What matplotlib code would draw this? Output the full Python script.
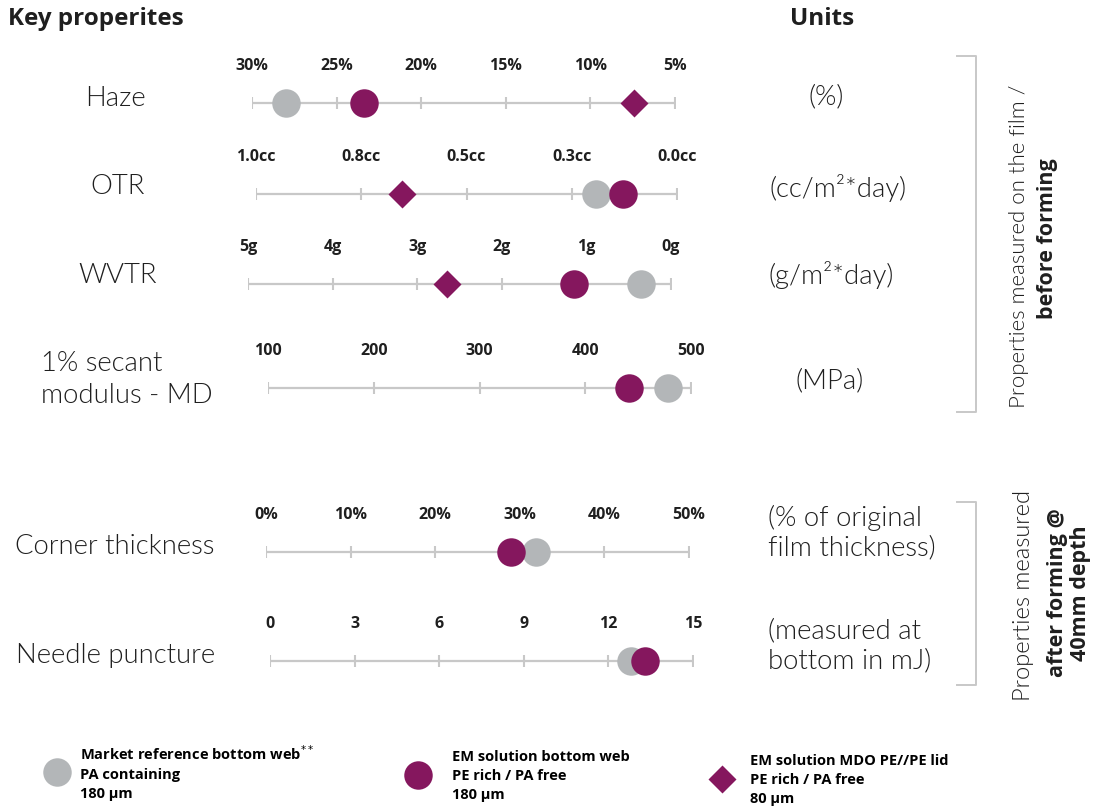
import matplotlib
matplotlib.use("Agg")
import matplotlib.pyplot as plt
from matplotlib.lines import Line2D
import numpy as np

W, H = 1094, 812

# ---- data --------------------------------------------------------------
properties = ["Haze", "OTR", "WVTR", "1% secant\nmodulus - MD",
              "Corner thickness", "Needle puncture"]
units = ["(%)", "(cc/m²*day)", "(g/m²*day)", "(MPa)",
         "(% of original\nfilm thickness)", "(measured at\nbottom in mJ)"]

haze_ticks = [30, 25, 20, 15, 10, 5]
otr_ticks = [1.0, 0.8, 0.5, 0.3, 0.0]
wvtr_ticks = [5, 4, 3, 2, 1, 0]
modulus_ticks = [100, 200, 300, 400, 500]
corner_ticks = [0, 10, 20, 30, 40, 50]
needle_ticks = [0, 3, 6, 9, 12, 15]

haze_labels = ["30%", "25%", "20%", "15%", "10%", "5%"]
otr_labels = ["1.0cc", "0.8cc", "0.5cc", "0.3cc", "0.0cc"]
wvtr_labels = ["5g", "4g", "3g", "2g", "1g", "0g"]
modulus_labels = ["100", "200", "300", "400", "500"]
corner_labels = ["0%", "10%", "20%", "30%", "40%", "50%"]
needle_labels = ["0", "3", "6", "9", "12", "15"]

# one value per property (None = not measured)
market_ref = [28.0, 0.23, 0.35, 478, 31.9, 12.8]
em_bottom = [23.4, 0.153, 1.15, 441, 29.0, 13.3]
em_lid = [7.4, 0.683, 2.65, None, None, None]

series_labels = [
    "Market reference bottom web$^{**}$\nPA containing\n180 µm",
    "EM solution bottom web\nPE rich / PA free\n180 µm",
    "EM solution MDO PE//PE lid\nPE rich / PA free\n80 µm",
]

# ---- layout (pixels) ---------------------------------------------------
row_ticks = [haze_ticks, otr_ticks, wvtr_ticks, modulus_ticks, corner_ticks, needle_ticks]
row_labels = [haze_labels, otr_labels, wvtr_labels, modulus_labels, corner_labels, needle_labels]
row_x = [(252, 675), (256, 677), (248, 671), (268, 691), (266, 689), (270, 693)]
row_y = [104, 195, 285, 389, 553, 662]

GREY = "#b3b6b8"
PURPLE = "#85175e"
LINE = "#c8c8c8"
TEXT = "#1f1f1f"
BOLD = ["Open Sans", "DejaVu Sans"]
LIGHT = 300

plt.rcParams["font.family"] = ["Lato", "DejaVu Sans"]

fig = plt.figure(figsize=(W / 100, H / 100), dpi=100)


def fx(x):
    return x / W


def fy(y):
    return 1 - y / H


def tick_scale(ticks):
    # evenly spaced ticks, piecewise linear in between
    t = np.sort(np.asarray(ticks, dtype=float))
    pos = np.arange(len(t), dtype=float)

    def fwd(v):
        return np.interp(np.asarray(v, dtype=float), t, pos)

    def inv(p):
        return np.interp(np.asarray(p, dtype=float), pos, t)

    return fwd, inv


for i, ticks in enumerate(row_ticks):
    x0, x1 = row_x[i]
    y = row_y[i]
    ax = fig.add_axes([fx(x0), fy(y + 20), (x1 - x0) / W, 40 / H])
    ax.set_xscale("function", functions=tick_scale(ticks))
    ax.set_xlim(ticks[0], ticks[-1])
    ax.set_ylim(-1, 1)
    ax.axis("off")

    ax.plot([ticks[0], ticks[-1]], [0, 0], color=LINE, lw=1.6, zorder=1,
            solid_capstyle="butt")
    ax.plot(ticks, [0] * len(ticks), ls="none", marker="|", ms=9, mew=1.5,
            color=LINE, zorder=1)
    for t, lab in zip(ticks, row_labels[i]):
        ax.annotate(lab, (t, 0), xytext=(0, 27.5), textcoords="offset points",
                    ha="center", va="center", fontsize=11.5, fontweight="bold",
                    color=TEXT, family=BOLD)

    if em_lid[i] is not None:
        ax.plot([em_lid[i]], [0], ls="none", marker="D", ms=14, color=PURPLE,
                mec="none", zorder=3, clip_on=False)
    ax.plot([market_ref[i]], [0], ls="none", marker="o", ms=20.5, color=GREY,
            mec="none", zorder=3, clip_on=False)
    ax.plot([em_bottom[i]], [0], ls="none", marker="o", ms=20.5, color=PURPLE,
            mec="none", zorder=4, clip_on=False)

# ---- text columns ------------------------------------------------------
name_pos = [(115, 99), (118, 187), (118, 276), (41, 380), (115, 546), (116, 656)]
for (x, y), name in zip(name_pos, properties):
    ha = "left" if "\n" in name else "center"
    fig.text(fx(x), fy(y), name, ha=ha, va="center", fontsize=19.8,
             fontweight=LIGHT, color=TEXT, linespacing=1.35)

unit_pos = [(826, 97), (838, 188), (831, 275), (830, 381), (768, 533), (768, 646)]
for (x, y), u in zip(unit_pos, units):
    ha = "left" if "\n" in u else "center"
    fig.text(fx(x), fy(y), u, ha=ha, va="center", fontsize=19.8,
             fontweight=LIGHT, color=TEXT, linespacing=1.22)

fig.text(fx(8), fy(19), "Key properites", ha="left", va="center", fontsize=17.5,
         fontweight="bold", color=TEXT, family=BOLD)
fig.text(fx(822), fy(19), "Units", ha="center", va="center", fontsize=17.5,
         fontweight="bold", color=TEXT, family=BOLD)

# ---- brackets ----------------------------------------------------------
for top, bot in [(57, 413), (503, 686)]:
    fig.add_artist(Line2D([fx(957), fx(976), fx(976), fx(957)],
                          [fy(top), fy(top), fy(bot), fy(bot)],
                          color=LINE, lw=1.4))

side = dict(rotation=90, rotation_mode="anchor", ha="center", va="center",
            color=TEXT)
fig.text(fx(1019), fy(246), "Properties measured on the film /",
         fontsize=16, fontweight=LIGHT, **side)
fig.text(fx(1048), fy(239), "before forming", fontsize=15.5,
         fontweight="bold", family=BOLD, **side)
fig.text(fx(1023), fy(595), "Properties measured", fontsize=17,
         fontweight=LIGHT, **side)
fig.text(fx(1069), fy(593), "after forming @\n40mm depth", fontsize=15.5,
         fontweight="bold", linespacing=1.15, family=BOLD, **side)

# ---- legend ------------------------------------------------------------
handles = [
    Line2D([], [], ls="none", marker="o", ms=20.5, color=GREY, mec="none"),
    Line2D([], [], ls="none", marker="o", ms=20.5, color=PURPLE, mec="none"),
    Line2D([], [], ls="none", marker="D", ms=14, color=PURPLE, mec="none"),
]
leg_fs = 10.5
em = leg_fs * 100 / 72
hlen = 2.0
# (marker centre x, text left x, text centre y)
leg_pos = [(57, 80, 773), (418, 452, 776), (722, 750, 780)]
for h, lab, (mx, tx, ty) in zip(handles, series_labels, leg_pos):
    left = mx - hlen * em / 2
    pad = (tx - left - hlen * em) / em
    leg = fig.legend([h], [lab], loc="center left",
                     bbox_to_anchor=(fx(left), fy(ty)), frameon=False,
                     borderpad=0, borderaxespad=0, handlelength=hlen,
                     handletextpad=pad,
                     prop={"family": BOLD, "weight": "bold", "size": leg_fs})
    for txt in leg.get_texts():
        txt.set_linespacing(1.45)

fig.savefig("out.png", dpi=100)
